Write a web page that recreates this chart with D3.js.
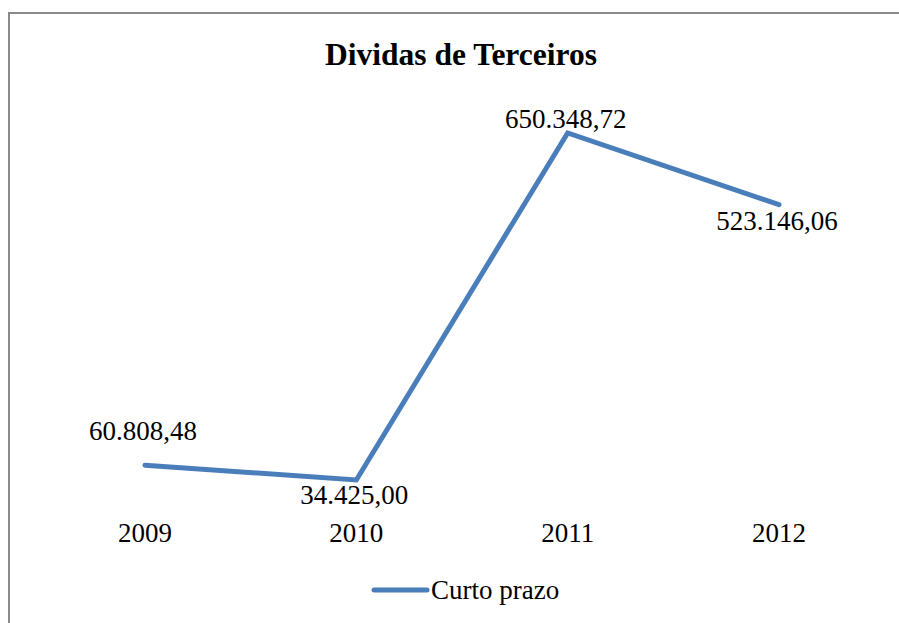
<!DOCTYPE html>
<html>
<head>
<meta charset="utf-8">
<script src="https://cdn.jsdelivr.net/npm/d3@7"></script>
<style>
  body { margin: 0; background: #fff; }
  svg text { font-family: "Liberation Serif", "Times New Roman", serif; fill: #000; }
</style>
</head>
<body>
<div id="chart"></div>
<script>
// Data
const years = ['2009', '2010', '2011', '2012'];
const values = [60808.48, 34425.00, 650348.72, 523146.06];
const valueLabels = ['60.808,48', '34.425,00', '650.348,72', '523.146,06'];
const seriesName = 'Curto prazo';
const title = 'Dividas de Terceiros';

const width = 899;
const height = 623;
const lineColor = '#4a7ebb';

const svg = d3.select('#chart')
    .append('svg')
    .attr('width', width)
    .attr('height', height);

// Chart frame (runs off the page at right and bottom)
svg.append('rect')
    .attr('x', 9)
    .attr('y', 13)
    .attr('width', 1000)
    .attr('height', 1000)
    .attr('fill', 'none')
    .attr('stroke', '#8a8a8a')
    .attr('stroke-width', 2);

// Title
svg.append('text')
    .attr('x', 461)
    .attr('y', 65)
    .attr('text-anchor', 'middle')
    .attr('font-size', 31.5)
    .attr('font-weight', 'bold')
    .text(title);

// Scales
const x = d3.scalePoint()
    .domain(years)
    .range([145, 779]);

const y = d3.scaleLinear()
    .domain([0, 700000])
    .range([499.4, 105]);

// Line
const line = d3.line()
    .x((d, i) => x(years[i]))
    .y(d => y(d));

svg.append('path')
    .datum(values)
    .attr('d', line)
    .attr('fill', 'none')
    .attr('stroke', lineColor)
    .attr('stroke-width', 5)
    .attr('stroke-linejoin', 'miter')
    .attr('stroke-linecap', 'round');

// Data labels: above for 2009/2011, below for 2010/2012
const labelOffset = [-25.5, 23.5, -4.7, 25.7];
svg.append('g')
    .selectAll('text')
    .data(values)
    .enter()
    .append('text')
    .attr('x', (d, i) => x(years[i]) - 2)
    .attr('y', (d, i) => y(d) + labelOffset[i])
    .attr('text-anchor', 'middle')
    .attr('font-size', 27)
    .text((d, i) => valueLabels[i]);

// Category labels
svg.append('g')
    .selectAll('text')
    .data(years)
    .enter()
    .append('text')
    .attr('x', d => x(d))
    .attr('y', 542)
    .attr('text-anchor', 'middle')
    .attr('font-size', 27)
    .text(d => d);

// Legend
const legend = svg.append('g');
legend.append('line')
    .attr('x1', 374)
    .attr('x2', 427)
    .attr('y1', 590)
    .attr('y2', 590)
    .attr('stroke', lineColor)
    .attr('stroke-width', 5)
    .attr('stroke-linecap', 'round');
legend.append('text')
    .attr('x', 431)
    .attr('y', 599)
    .attr('font-size', 27)
    .text(seriesName);
</script>
</body>
</html>
